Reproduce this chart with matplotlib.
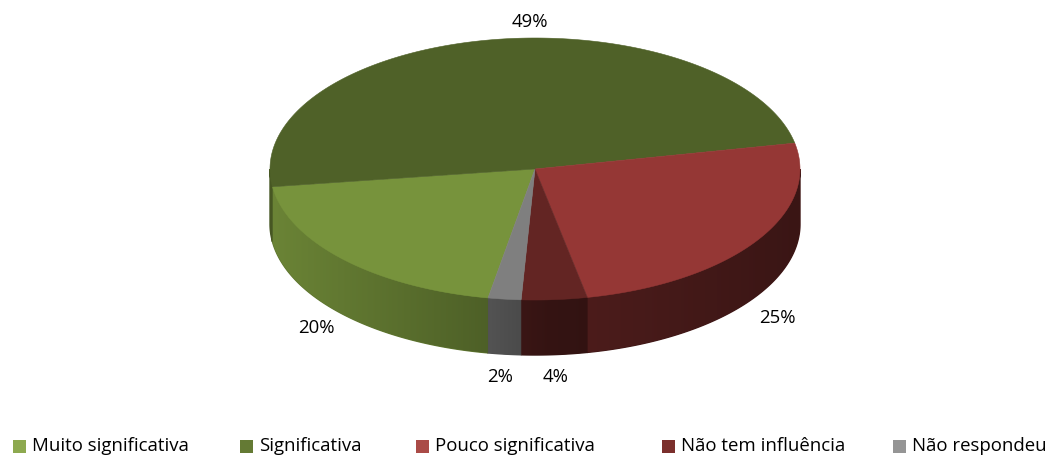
import numpy as np
import matplotlib
matplotlib.use("Agg")
import matplotlib.pyplot as plt
from matplotlib.patches import Polygon, Rectangle

# answers (percent)
categories = ["Muito significativa", "Significativa", "Pouco significativa",
              "Não tem influência", "Não respondeu"]
values = [20, 49, 25, 4, 2]
label_texts = ["20%", "49%", "25%", "4%", "2%"]

top_colors = ["#77933C", "#4F6128", "#953735", "#632523", "#7F7F7F"]
legend_colors = ["#8DA94F", "#647A34", "#AA4B47", "#7B2F2C", "#959595"]

# pie geometry in pixels (y grows downwards)
CX, CY, RX, RY, DEPTH = 535, 169, 265, 131, 55
START = 259.8  # degrees, slices run clockwise from here

# where the percentage labels sit
label_pos = [(316, 328), (530, 22), (777, 318), (556, 377), (500, 377)]
legend_x = [13, 240, 416, 662, 893]
LEGEND_Y = 446
FS = 13.4

plt.rcParams["font.family"] = ["Open Sans", "DejaVu Sans"]

fig = plt.figure(figsize=(10.56, 4.57), dpi=100)
ax = fig.add_axes([0, 0, 1, 1])
ax.set_xlim(0, 1056)
ax.set_ylim(457, 0)
ax.axis("off")


def pt(theta):
    t = np.radians(theta)
    return CX + RX * np.cos(t), CY - RY * np.sin(t)


def wall_shade(x):
    # side wall gets darker from left to right
    return np.interp(x, [270, 490, 550, 800], [0.9, 0.65, 0.53, 0.39])


total = float(sum(values))
bounds = []
a = START
for v in values:
    b = a - v / total * 360.0
    bounds.append((a, b))
    a = b

# side walls: only the part of each slice on the front half (180..360 deg)
xgrid = np.arange(CX - RX - 2, CX + RX + 3, 1.0)
for (a, b), col in zip(bounds, top_colors):
    lo, hi = min(a, b), max(a, b)
    segs = []
    for k in (-360, 0, 360):
        s0, s1 = max(lo + k, 180), min(hi + k, 360)
        if s1 > s0:
            segs.append((s0, s1))
    rgb = np.array(matplotlib.colors.to_rgb(col))
    for s0, s1 in segs:
        th = np.linspace(s0, s1, 200)
        xs, ys = pt(th)
        verts = list(zip(xs, ys)) + list(zip(xs[::-1], ys[::-1] + DEPTH))
        # solid underlay so no light seams show between neighbouring walls
        under = rgb * wall_shade(xs.mean())
        ax.add_patch(Polygon(verts, closed=True, facecolor=under,
                             edgecolor=under, linewidth=1.0, zorder=0.9))
        wall = Polygon(verts, closed=True, facecolor="none", edgecolor="none")
        ax.add_patch(wall)
        grad = np.clip(rgb[None, None, :] * wall_shade(xgrid)[None, :, None], 0, 1)
        img = ax.imshow(grad, extent=(xgrid[0], xgrid[-1], CY + RY + DEPTH + 2, CY - 5),
                        aspect="auto", interpolation="bilinear", zorder=1)
        img.set_clip_path(wall)

# top faces
for (a, b), col in zip(bounds, top_colors):
    th = np.linspace(a, b, int(abs(a - b) / 0.5) + 2)
    xs, ys = pt(th)
    verts = [(CX, CY)] + list(zip(xs, ys))
    ax.add_patch(Polygon(verts, closed=True, facecolor=col, edgecolor=col,
                         linewidth=0.4, zorder=2))

ax.set_xlim(0, 1056)
ax.set_ylim(457, 0)

for txt, (x, y) in zip(label_texts, label_pos):
    ax.text(x, y, txt, ha="center", va="center", fontsize=FS, color="black")

# legend along the bottom
for name, col, x in zip(categories, legend_colors, legend_x):
    ax.add_patch(Rectangle((x, LEGEND_Y - 6.5), 13, 13, facecolor=col,
                           edgecolor="none"))
    ax.text(x + 19, LEGEND_Y, name, ha="left", va="center", fontsize=FS,
            color="black")

fig.savefig("out.png", dpi=100)
